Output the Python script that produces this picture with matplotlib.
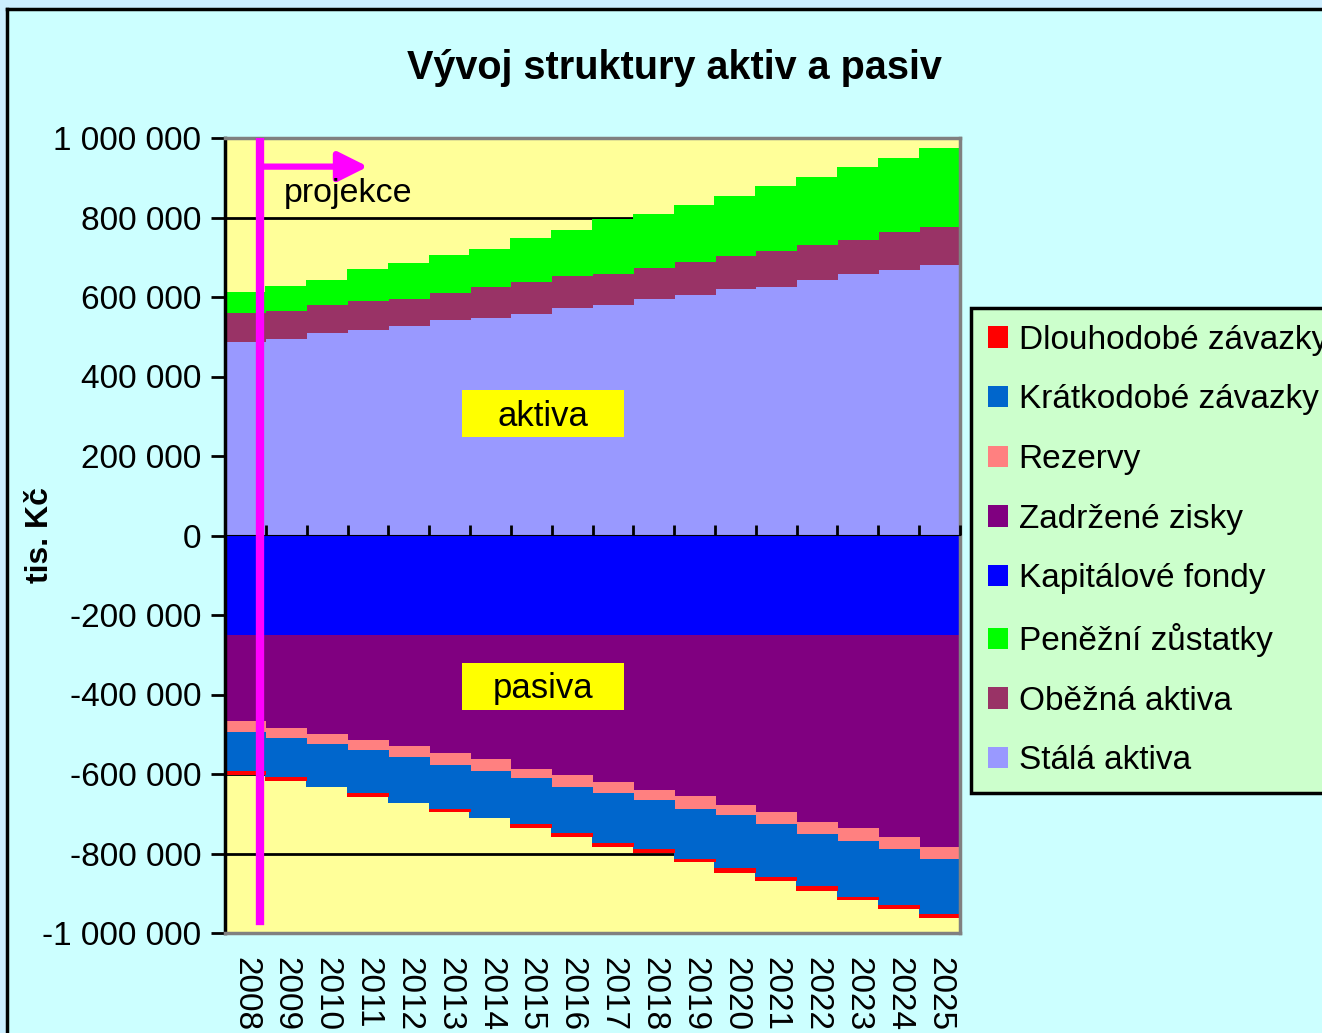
import matplotlib.pyplot as plt
import numpy as np
from matplotlib.patches import Patch, Rectangle
from matplotlib.ticker import FuncFormatter

plt.rcParams['font.family'] = ['Liberation Sans', 'DejaVu Sans']

# data (tis. Kč)
roky = [str(r) for r in range(2008, 2026)]

stala_aktiva = [486300, 493100, 508200, 518200, 525800, 540900, 548400, 556000, 571100,
                581100, 596200, 603800, 618900, 626400, 644000, 659100, 666700, 681700]
obezna_aktiva = [72900, 72900, 72900, 70500, 70400, 70400, 78000, 80500, 80500,
                 78000, 78000, 85500, 85500, 88100, 85600, 85500, 95600, 95600]
penezni_zustatky = [54600, 62900, 62900, 80500, 88100, 95600, 95600, 110700, 118200,
                    135900, 135800, 143400, 150900, 166000, 173500, 181200, 188600, 196300]

kapitalove_fondy = [-250000] * 18
zadrzene_zisky = [-217900, -235500, -250600, -265700, -280800, -298400, -313500, -336200, -351300,
                  -368900, -391500, -406600, -429200, -446800, -469500, -484600, -509700, -532400]
rezervy = [-25200, -22700, -22700, -22700, -25200, -30200, -30200, -25100, -31900,
           -29400, -22700, -32700, -25200, -30200, -32700, -32700, -30200, -30200]
kratkodobe_zavazky = [-99800, -99800, -109900, -109900, -117400, -108200, -117500, -115700, -115700,
                      -125800, -125000, -123300, -133300, -132600, -130800, -140900, -140100, -140800]
dlouhodobe_zavazky = [-10100, -10100, 0, -10100, 0, -9300, 0, -9300, -10100,
                      -10000, -10000, -10000, -10100, -10100, -10100, -10000, -10100, -10100]

kladne = [("Stálá aktiva", stala_aktiva, "#9999FF"),
          ("Oběžná aktiva", obezna_aktiva, "#993366"),
          ("Peněžní zůstatky", penezni_zustatky, "#00FF00")]
zaporne = [("Kapitálové fondy", kapitalove_fondy, "#0000FF"),
           ("Zadržené zisky", zadrzene_zisky, "#800080"),
           ("Rezervy", rezervy, "#FF8080"),
           ("Krátkodobé závazky", kratkodobe_zavazky, "#0066CC"),
           ("Dlouhodobé závazky", dlouhodobe_zavazky, "#FF0000")]

fig = plt.figure(figsize=(13.22, 10.33), dpi=100)
fig.patch.set_facecolor('#CCFFFF')

# ramecek slidu
fig.add_artist(Rectangle((0, 1 - 9 / 1033), 1, 9 / 1033, transform=fig.transFigure,
                         facecolor='#CCEEFF', edgecolor='none'))
fig.add_artist(Rectangle((0, 0), 7 / 1322, 1, transform=fig.transFigure,
                         facecolor='#CCEEFF', edgecolor='none'))
fig.add_artist(plt.Line2D([7 / 1322, 1], [1 - 9 / 1033, 1 - 9 / 1033], transform=fig.transFigure,
                          color='black', lw=2.5))
fig.add_artist(plt.Line2D([7 / 1322, 7 / 1322], [0, 1 - 9 / 1033], transform=fig.transFigure,
                          color='black', lw=2.5))

ax = fig.add_axes([225 / 1322, 100 / 1033, 735 / 1322, 795 / 1033])
ax.set_facecolor('#FFFF99')

# sloupce bez mezer (mirne presah, aby nevznikly bile svisle spary)
x = np.arange(len(roky))
dole = np.zeros(len(roky))
for nazev, hodnoty, barva in kladne:
    ax.bar(x, hodnoty, width=1.03, bottom=dole, color=barva, linewidth=0,
           antialiased=False, zorder=2)
    dole += np.array(hodnoty)
dole = np.zeros(len(roky))
for nazev, hodnoty, barva in zaporne:
    h = np.array(hodnoty)
    ax.bar(x[h != 0], h[h != 0], width=1.03, bottom=dole[h != 0], color=barva, linewidth=0,
           antialiased=False, zorder=2)
    dole += h

ax.set_xlim(-0.5, len(roky) - 0.5)
ax.set_ylim(-1000000, 1000000)
ax.set_yticks(np.arange(-1000000, 1000001, 200000))
ax.yaxis.set_major_formatter(FuncFormatter(lambda v, p: f"{int(v):,}".replace(",", " ")))
ax.yaxis.grid(True, color='black', lw=2)
ax.set_axisbelow(True)
ax.tick_params(axis='y', labelsize=24, length=10, width=2, pad=7)

ax.set_xticks(x)
ax.set_xticklabels(roky, rotation=-90, fontsize=24)
ax.tick_params(axis='x', length=0, pad=17)

for s in ['top', 'right', 'bottom']:
    ax.spines[s].set_color('#808080')
    ax.spines[s].set_linewidth(2.5)
ax.spines['left'].set_color('black')
ax.spines['left'].set_linewidth(2.5)

# osa x v nule
osa0 = ax.secondary_xaxis(0.5)
osa0.set_xticks(np.arange(-0.5, len(roky), 1.0))
osa0.set_xticklabels([])
osa0.tick_params(length=7, width=2, direction='out')
osa0.spines['bottom'].set_linewidth(2.5)
osa0.spines['bottom'].set_color('black')
osa0.set_zorder(5)

# projekce
ax.axvline(0.35, ymin=(1000000 - 970000) / 2000000, ymax=1, color='#FF00FF', lw=6, zorder=6)
ax.annotate('', xy=(3.0, 928000), xytext=(0.35, 928000),
            arrowprops=dict(arrowstyle='-|>,head_length=0.6,head_width=0.3', color='#FF00FF',
                            lw=4.5, mutation_scale=30, shrinkA=0, shrinkB=0), zorder=6)
ax.text(0.95, 860000, 'projekce', fontsize=24.5, ha='left', va='center', zorder=6)

ax.add_patch(Rectangle((5.3, 249000), 3.97, 115800, facecolor='#FFFF00', edgecolor='none', zorder=4))
ax.text(7.29, 300000, 'aktiva', fontsize=25, ha='center', va='center', zorder=5)
ax.add_patch(Rectangle((5.3, -440200), 3.97, 118200, facecolor='#FFFF00', edgecolor='none', zorder=4))
ax.text(7.29, -384000, 'pasiva', fontsize=25, ha='center', va='center', zorder=5)

fig.text(0.510, 0.934, 'Vývoj struktury aktiv a pasiv', fontsize=28.5, fontweight='bold',
         ha='center', va='center')
fig.text(0.030, 0.482, 'tis. Kč', fontsize=23, fontweight='bold', rotation=90,
         ha='center', va='center')

poradi = [zaporne[4], zaporne[3], zaporne[2], zaporne[1], zaporne[0],
          kladne[2], kladne[1], kladne[0]]
handles = [Patch(facecolor=b, edgecolor='none', label=n) for n, h, b in poradi]
leg = fig.legend(handles=handles, loc='upper left', bbox_to_anchor=(971 / 1322, 1 - 308 / 1033),
                 fontsize=24, frameon=True, fancybox=False, framealpha=1,
                 facecolor='#CCFFCC', edgecolor='black', handlelength=0.6, handleheight=0.6,
                 handletextpad=0.33, labelspacing=0.86, borderpad=0.5, borderaxespad=0)
leg.get_frame().set_linewidth(2.5)

fig.savefig('out.png', dpi=100, facecolor=fig.get_facecolor())
